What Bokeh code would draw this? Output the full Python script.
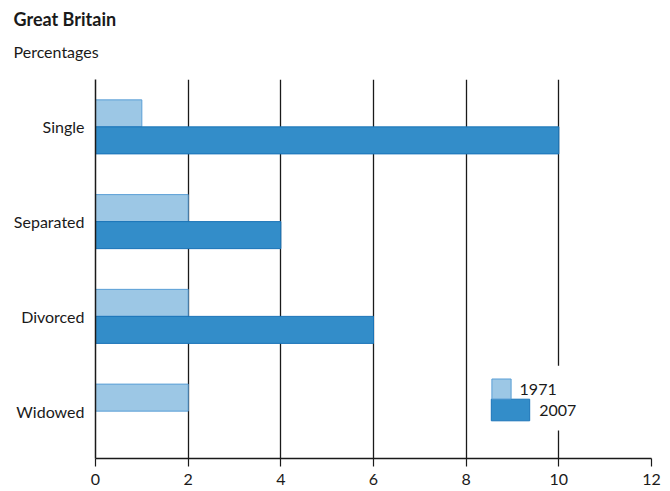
from bokeh.plotting import figure
from bokeh.models import (FactorRange, Range1d, Legend, LegendItem, Title,
                          BoxAnnotation, FixedTicker, ColumnDataSource)
from bokeh.transform import dodge
from bokeh.embed import file_html
from bokeh.resources import INLINE

# Marital status of mothers, Great Britain (percentages)
statuses = ["Single", "Separated", "Divorced", "Widowed"]
pct_1971 = [1, 2, 2, 2]
pct_2007 = [10, 4, 6, 0]
x_ticks = [0, 2, 4, 6, 8, 10, 12]

FONT = "Lato"
INK = "#1a1a1a"
LIGHT_FILL, LIGHT_LINE = "#9cc7e5", "#5a9fd6"
DARK_FILL, DARK_LINE = "#338dc9", "#1a74b8"

src = ColumnDataSource(dict(status=statuses, v1971=pct_1971, v2007=pct_2007))

p = figure(width=670, height=491, output_backend="svg", toolbar_location=None,
           y_range=FactorRange(factors=statuses[::-1], range_padding=0),
           x_range=Range1d(0, 12),
           min_border_left=95, min_border_right=19,
           min_border_bottom=33, min_border_top=79)
p.outline_line_color = None
p.background_fill_color = "white"

bar_h = 0.285
r71 = p.hbar(y=dodge("status", bar_h / 2, range=p.y_range), right="v1971", left=0,
             height=bar_h, source=src, fill_color=LIGHT_FILL, line_color=LIGHT_LINE,
             line_width=1)
r07 = p.hbar(y=dodge("status", -bar_h / 2, range=p.y_range), right="v2007", left=0,
             height=bar_h, source=src, fill_color=DARK_FILL, line_color=DARK_LINE,
             line_width=1)

# Axes
p.xaxis.ticker = FixedTicker(ticks=x_ticks)
p.xaxis.axis_line_color = INK
p.xaxis.axis_line_width = 1.5
p.xaxis.major_tick_line_color = INK
p.xaxis.major_tick_line_width = 1.2
p.xaxis.major_tick_out = 8
p.xaxis.major_tick_in = 0
p.xaxis.minor_tick_line_color = None
p.xaxis.major_label_standoff = 7
p.xaxis.major_label_text_font = FONT
p.xaxis.major_label_text_font_size = "16px"
p.xaxis.major_label_text_color = INK

p.yaxis.axis_line_color = INK
p.yaxis.axis_line_width = 1.5
p.yaxis.major_tick_line_color = None
p.yaxis.major_tick_out = 0
p.yaxis.major_tick_in = 0
p.yaxis.minor_tick_line_color = None
p.yaxis.major_label_standoff = 11
p.yaxis.major_label_text_font = FONT
p.yaxis.major_label_text_font_size = "16px"
p.yaxis.major_label_text_color = INK

p.xgrid.grid_line_color = INK
p.xgrid.grid_line_width = 1.3
p.ygrid.grid_line_color = None

# Heading (outermost), units line, and a thin spacer next to the plot
p.title.text = "Great Britain"
p.title.text_font = FONT
p.title.text_font_size = "18px"
p.title.text_font_style = "bold"
p.title.text_color = INK
p.title.align = "left"
p.title.offset = -82
p.title.standoff = 10
p.add_layout(Title(text=" ", text_font_size="1px", standoff=10), "above")
p.add_layout(Title(text="Percentages", text_font=FONT, text_font_size="16px",
                   text_font_style="normal", text_color=INK, align="left",
                   offset=-82, standoff=11), "above")

# White backdrop behind the key, interrupting the gridline at 10
p.add_layout(BoxAnnotation(left=9.7, right=10.3, top=0.98, bottom=0.296,
                           fill_color="white", fill_alpha=1, line_color=None))

common = dict(padding=0, margin=0, spacing=0, border_line_color=None,
              background_fill_alpha=0, label_text_font=FONT,
              label_text_font_size="16px", label_text_color=INK)
leg07 = Legend(items=[LegendItem(label="2007", renderers=[r07])],
               location=(391.25, 35.25), glyph_width=48, glyph_height=27,
               label_height=27, label_standoff=5, **common)
leg71 = Legend(items=[LegendItem(label="1971", renderers=[r71])],
               location=(393.6, 57.5), glyph_width=24, glyph_height=25,
               label_height=25, label_standoff=7, **common)
p.add_layout(leg07, "center")
p.add_layout(leg71, "center")

open("out.html", "w").write(file_html(p, INLINE))
